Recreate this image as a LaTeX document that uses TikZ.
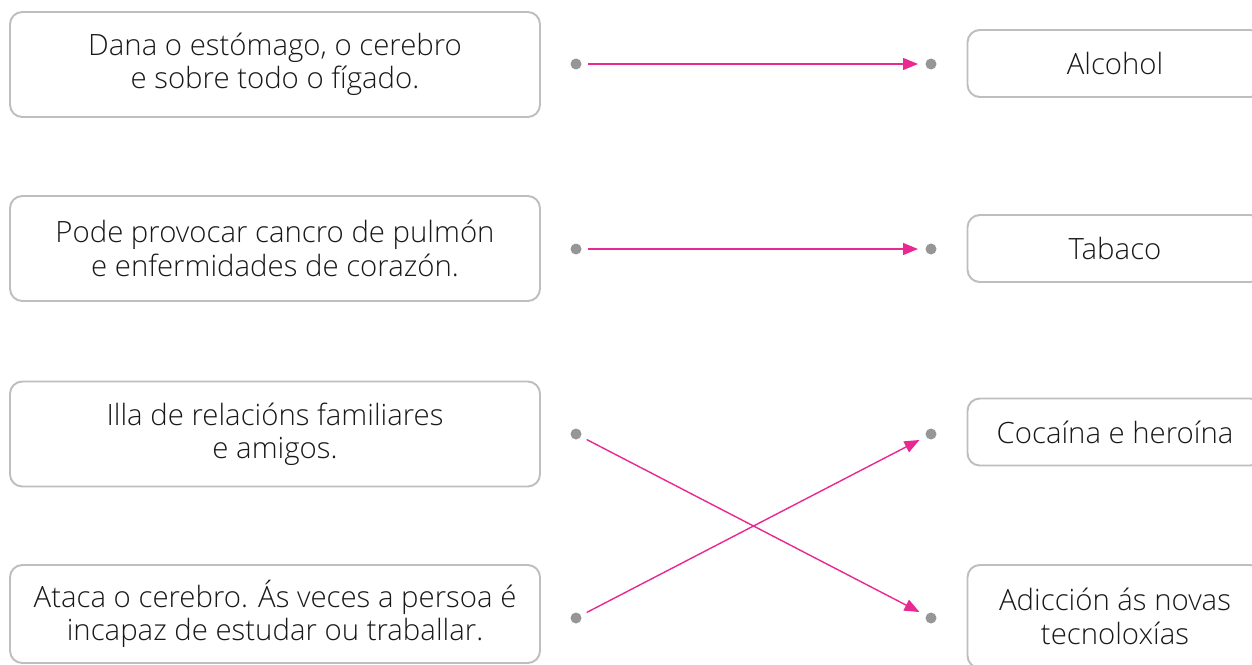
\documentclass[tikz,border=0pt]{standalone}
\usepackage{fontspec}
\IfFontExistsTF{Open Sans Light}{\setmainfont{Open Sans Light}}{\setmainfont{Open Sans}}
\usepackage{xcolor}
\usepackage{tikz}
\usetikzlibrary{arrows.meta}

\definecolor{boxgray}{RGB}{190,190,190}
\definecolor{dotgray}{RGB}{150,150,150}
\definecolor{linkpink}{RGB}{234,40,145}

\tikzset{
	phrase/.style={draw=boxgray, line width=1.1pt, rounded corners=7pt, minimum width=10.6cm, minimum height=2.1cm, align=center, font=\fontsize{16.7}{19}\selectfont, text=black!90},
	answer/.style={draw=boxgray, line width=1.1pt, rounded corners=7pt, minimum width=5.9cm, minimum height=1.34cm, align=center, font=\fontsize{16.7}{19}\selectfont, text=black!90},
	link/.style={draw=linkpink, line width=0.8pt, -{Triangle[length=0.3cm, width=0.24cm]}, shorten <=0.24cm, shorten >=0.26cm},
}

\begin{document}
\begin{tikzpicture}
	\useasboundingbox (0,0) rectangle (25.04,-13.28);
	
	\node[phrase] (p1) at (5.5,-1.29) {Dana o estómago, o cerebro\\ e sobre todo o fígado.};
	\node[phrase] (p2) at (5.5,-4.97) {Pode provocar cancro de pulmón\\ e enfermidades de corazón.};
	\node[phrase] (p3) at (5.5,-8.68) {Illa de relacións familiares\\ e amigos.};
	\node[phrase, minimum height=1.96cm] (p4) at (5.5,-12.28) {Ataca o cerebro. Ás veces a persoa é\\ incapaz de estudar ou traballar.};
	
	\node[answer] (a1) at (22.3,-1.27) {Alcohol};
	\node[answer] (a2) at (22.3,-4.97) {Tabaco};
	\node[answer] (a3) at (22.3,-8.64) {Cocaína e heroína};
	\node[answer, minimum height=2.06cm] (a4) at (22.3,-12.33) {Adicción ás novas\\ tecnoloxías};
	
	\foreach \n/\y in {1/-1.28, 2/-4.98, 3/-8.68, 4/-12.36} {
		\coordinate (l\n) at (11.52,\y);
		\coordinate (r\n) at (18.62,\y);
		\fill[dotgray] (l\n) circle (0.11);
		\fill[dotgray] (r\n) circle (0.11);
	}
	
	\draw[link] (l1) -- (r1);
	\draw[link] (l2) -- (r2);
	\draw[link] (l3) -- (r4);
	\draw[link] (l4) -- (r3);
\end{tikzpicture}
\end{document}
